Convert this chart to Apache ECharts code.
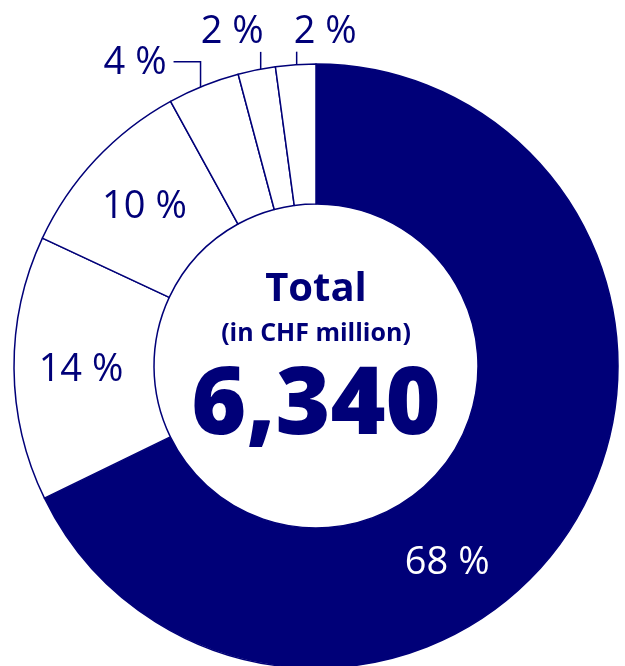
<!DOCTYPE html>
<html>
<head>
	<meta charset="UTF-8">
	<title></title>
	<style>
		html, body { margin: 0; padding: 0; background: #fff; }
		#chart { width: 625px; height: 666px; }
	</style>
	<script src="https://cdn.jsdelivr.net/npm/echarts@6/dist/echarts.min.js"></script>
</head>
<body>
	<div id="chart"></div>
	<script>
		// shares of the total, in CHF million
		var shares = ['68 %', '14 %', '10 %', '4 %', '2 %', '2 %'];
		var values = [4298, 898, 637, 244, 127, 136];
		var totalTitle = 'Total';
		var totalUnit = '(in CHF million)';
		var totalValue = '6,340';

		var navy = '#000078';
		var font = "'Open Sans', 'Noto Sans', sans-serif";

		var chart = echarts.init(document.getElementById('chart'));

		var data = values.map(function (v, i) {
			var item = { value: v, name: shares[i] };
			if (i === 0) {
				item.itemStyle = { color: navy };
				item.label = { position: 'inside', color: '#fff' };
				item.labelLine = { show: false };
			} else if (i < 3) {
				item.label = { position: 'inside' };
				item.labelLine = { show: false };
			} else {
				item.label = { position: 'outside' };
				item.labelLine = { show: true, length: 20, length2: 10 };
			}
			return item;
		});

		var option = {
			animation: false,
			series: [{
				type: 'pie',
				center: [316, 366],
				radius: [162, 302],
				startAngle: 90,
				clockwise: true,
				avoidLabelOverlap: false,
				itemStyle: {
					color: '#fff',
					borderColor: navy,
					borderWidth: 1.5
				},
				label: {
					formatter: function (p) { return shares[p.dataIndex]; },
					color: navy,
					fontFamily: font,
					fontWeight: 'normal',
					fontSize: 38
				},
				labelLine: {
					lineStyle: { color: navy, width: 1.5 }
				},
				emphasis: { disabled: true },
				labelLayout: function (p) {
					var a = p.labelLinePoints ? p.labelLinePoints[0] : null;
					if (p.dataIndex === 0) {
						return { dx: -68, dy: 73 };
					}
					if (p.dataIndex === 1 || p.dataIndex === 2) {
						return { dy: 2 };
					}
					if (p.dataIndex === 3 && a) {
						return {
							x: a[0] - 37, y: a[1] - 23, align: 'right', verticalAlign: 'middle',
							labelLinePoints: [[a[0] - 3, a[1] + 17], [a[0] - 3, a[1] - 24], [a[0] - 30, a[1] - 24]]
						};
					}
					if (p.dataIndex === 4 && a) {
						return {
							x: a[0] + 7, y: a[1] - 38, align: 'right', verticalAlign: 'middle',
							labelLinePoints: [[a[0] + 4, a[1] + 19], [a[0] + 4, a[1] - 18]]
						};
					}
					if (p.dataIndex === 5 && a) {
						return {
							x: a[0] - 2, y: a[1] - 33, align: 'left', verticalAlign: 'middle',
							labelLinePoints: [[a[0] + 1, a[1] + 24], [a[0] + 1, a[1] - 13]]
						};
					}
					return {};
				},
				data: data
			}],
			graphic: [
				{
					type: 'text', x: 316, y: 290,
					style: { text: totalTitle, fill: navy, fontFamily: font, fontWeight: 'bold', fontSize: 40, align: 'center', verticalAlign: 'middle' }
				},
				{
					type: 'text', x: 316, y: 334,
					style: { text: totalUnit, fill: navy, fontFamily: font, fontWeight: 'bold', fontSize: 25, align: 'center', verticalAlign: 'middle' }
				},
				{
					type: 'text', x: 316, y: 407,
					style: { text: totalValue, fill: navy, fontFamily: font, fontWeight: 800, fontSize: 94, align: 'center', verticalAlign: 'middle' }
				}
			]
		};

		chart.setOption(option);
	</script>
</body>
</html>
